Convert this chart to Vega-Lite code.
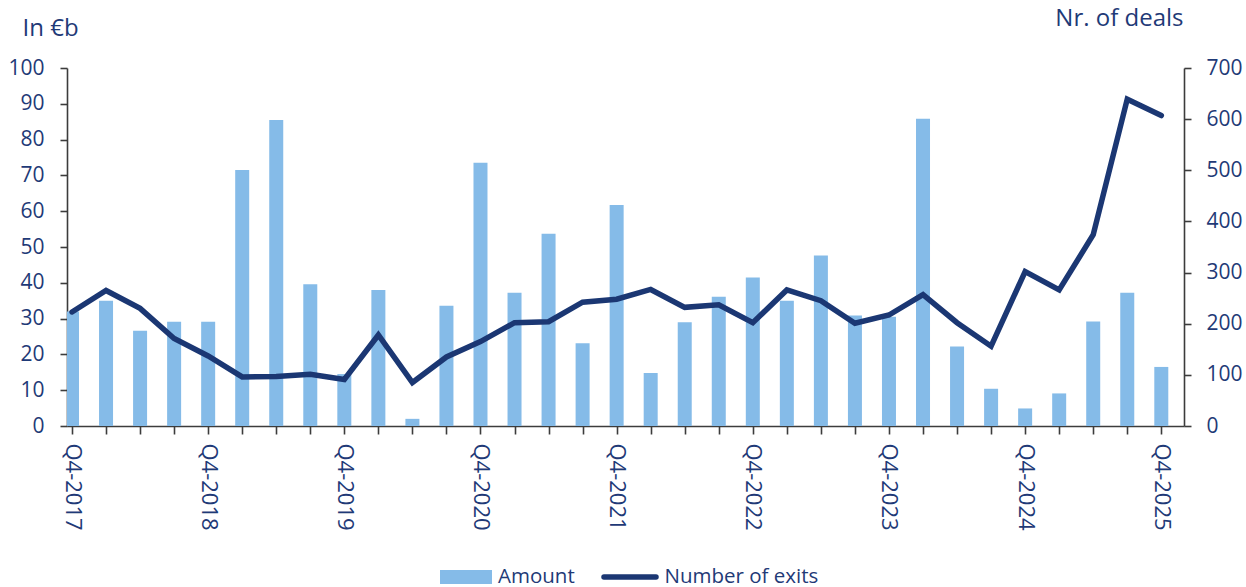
{
  "$schema": "https://vega.github.io/schema/vega-lite/v6.json",
  "width": 1117,
  "height": 358,
  "autosize": {"type": "none"},
  "padding": {"left": 67, "top": 68, "right": 62, "bottom": 161},
  "background": "white",
  "config": {
    "view": {"stroke": null},
    "font": "Open Sans",
    "axis": {
      "labelFont": "Open Sans",
      "titleFont": "Open Sans",
      "labelColor": "#1F3A77",
      "titleColor": "#1F3A77",
      "domainColor": "#3C3C3C",
      "tickColor": "#3C3C3C",
      "domainWidth": 1.6,
      "tickWidth": 1.6,
      "grid": false,
      "titleFontWeight": "normal"
    },
    "legend": {
      "labelFont": "Open Sans",
      "labelColor": "#1F3A77"
    }
  },
  "data": {
    "values": [
      {"q": "Q4-2017", "i": 0, "amount": 32.0, "exits": 223},
      {"q": "Q1-2018", "i": 1, "amount": 35.0, "exits": 265},
      {"q": "Q2-2018", "i": 2, "amount": 26.6, "exits": 230},
      {"q": "Q3-2018", "i": 3, "amount": 29.1, "exits": 171},
      {"q": "Q4-2018", "i": 4, "amount": 29.1, "exits": 137},
      {"q": "Q1-2019", "i": 5, "amount": 71.5, "exits": 96},
      {"q": "Q2-2019", "i": 6, "amount": 85.5, "exits": 97},
      {"q": "Q3-2019", "i": 7, "amount": 39.6, "exits": 101},
      {"q": "Q4-2019", "i": 8, "amount": 14.5, "exits": 91},
      {"q": "Q1-2020", "i": 9, "amount": 38.0, "exits": 178},
      {"q": "Q2-2020", "i": 10, "amount": 2.0, "exits": 85},
      {"q": "Q3-2020", "i": 11, "amount": 33.6, "exits": 135},
      {"q": "Q4-2020", "i": 12, "amount": 73.5, "exits": 165},
      {"q": "Q1-2021", "i": 13, "amount": 37.2, "exits": 202},
      {"q": "Q2-2021", "i": 14, "amount": 53.7, "exits": 204},
      {"q": "Q3-2021", "i": 15, "amount": 23.1, "exits": 242},
      {"q": "Q4-2021", "i": 16, "amount": 61.7, "exits": 248},
      {"q": "Q1-2022", "i": 17, "amount": 14.8, "exits": 267},
      {"q": "Q2-2022", "i": 18, "amount": 29.0, "exits": 232},
      {"q": "Q3-2022", "i": 19, "amount": 36.1, "exits": 237},
      {"q": "Q4-2022", "i": 20, "amount": 41.5, "exits": 202},
      {"q": "Q1-2023", "i": 21, "amount": 35.0, "exits": 266},
      {"q": "Q2-2023", "i": 22, "amount": 47.6, "exits": 245},
      {"q": "Q3-2023", "i": 23, "amount": 30.9, "exits": 201},
      {"q": "Q4-2023", "i": 24, "amount": 30.5, "exits": 217},
      {"q": "Q1-2024", "i": 25, "amount": 85.8, "exits": 257},
      {"q": "Q2-2024", "i": 26, "amount": 22.2, "exits": 202},
      {"q": "Q3-2024", "i": 27, "amount": 10.4, "exits": 156},
      {"q": "Q4-2024", "i": 28, "amount": 4.9, "exits": 302},
      {"q": "Q1-2025", "i": 29, "amount": 9.1, "exits": 266},
      {"q": "Q2-2025", "i": 30, "amount": 29.2, "exits": 374},
      {"q": "Q3-2025", "i": 31, "amount": 37.2, "exits": 639},
      {"q": "Q4-2025", "i": 32, "amount": 16.5, "exits": 607}
    ]
  },
  "encoding": {
    "x": {
      "field": "i",
      "type": "quantitative",
      "scale": {"domain": [0, 32.52], "nice": false, "zero": false},
      "axis": {
        "title": null,
        "values": [0,1,2,3,4,5,6,7,8,9,10,11,12,13,14,15,16,17,18,19,20,21,22,23,24,25,26,27,28,29,30,31,32],
        "labelExpr": "datum.value % 4 === 0 ? 'Q4-' + (2017 + datum.value / 4) : ''",
        "labelAngle": 90,
        "labelAlign": "left",
        "labelBaseline": "middle",
        "labelFontSize": 22,
        "labelFlush": false,
        "labelOverlap": false,
        "labelBound": false,
        "tickSize": 8,
        "labelPadding": 9
      }
    }
  },
  "layer": [
    {
      "mark": {"type": "bar", "size": 14, "clip": true},
      "encoding": {
        "y": {
          "field": "amount",
          "type": "quantitative",
          "scale": {"domain": [0, 100], "nice": false},
          "axis": {
            "orient": "left",
            "title": "In €b",
            "values": [0,10,20,30,40,50,60,70,80,90,100],
            "labelFontSize": 21,
            "tickSize": 7,
            "labelPadding": 16,
            "titleAngle": 0,
            "titleFontSize": 24,
            "titleX": -45,
            "titleY": -40,
            "titleAlign": "left",
            "titleBaseline": "middle"
          }
        },
        "fill": {
          "datum": "Amount",
          "type": "nominal",
          "scale": {"domain": ["Amount"], "range": ["#85BBE8"]},
          "legend": {
            "title": null,
            "orient": "none",
            "direction": "horizontal",
            "legendX": 373,
            "legendY": 483,
            "labelFontSize": 20.5,
            "labelOffset": 6,
            "symbolSize": 2704,
            "symbolType": "M-1,-0.27H1V0.27H-1Z",
            "symbolStrokeWidth": 0,
            "symbolFillColor": "#85BBE8",
            "symbolOpacity": 1
          }
        }
      }
    },
    {
      "mark": {"type": "line", "strokeWidth": 5.5, "strokeCap": "round", "strokeJoin": "miter"},
      "encoding": {
        "y": {
          "field": "exits",
          "type": "quantitative",
          "scale": {"domain": [0, 700], "nice": false},
          "axis": {
            "orient": "right",
            "title": "Nr. of deals",
            "values": [0,100,200,300,400,500,600,700],
            "labelFontSize": 21,
            "tickSize": 7,
            "labelPadding": 15,
            "titleAngle": 0,
            "titleFontSize": 24,
            "titleX": -1,
            "titleY": -50,
            "titleAlign": "right",
            "titleBaseline": "middle"
          }
        },
        "stroke": {
          "datum": "Number of exits",
          "type": "nominal",
          "scale": {"domain": ["Number of exits"], "range": ["#1B3773"]},
          "legend": {
            "title": null,
            "orient": "none",
            "direction": "horizontal",
            "legendX": 534,
            "legendY": 480,
            "labelFontSize": 20.5,
            "labelOffset": 5.5,
            "symbolSize": 2704,
            "symbolType": "stroke",
            "symbolStrokeWidth": 5.5,
            "symbolStrokeColor": "#1B3773",
            "symbolOpacity": 1,
            "encode": {"symbols": {"update": {"strokeCap": {"value": "round"}}}}
          }
        }
      }
    }
  ],
  "resolve": {"scale": {"y": "independent"}}
}
